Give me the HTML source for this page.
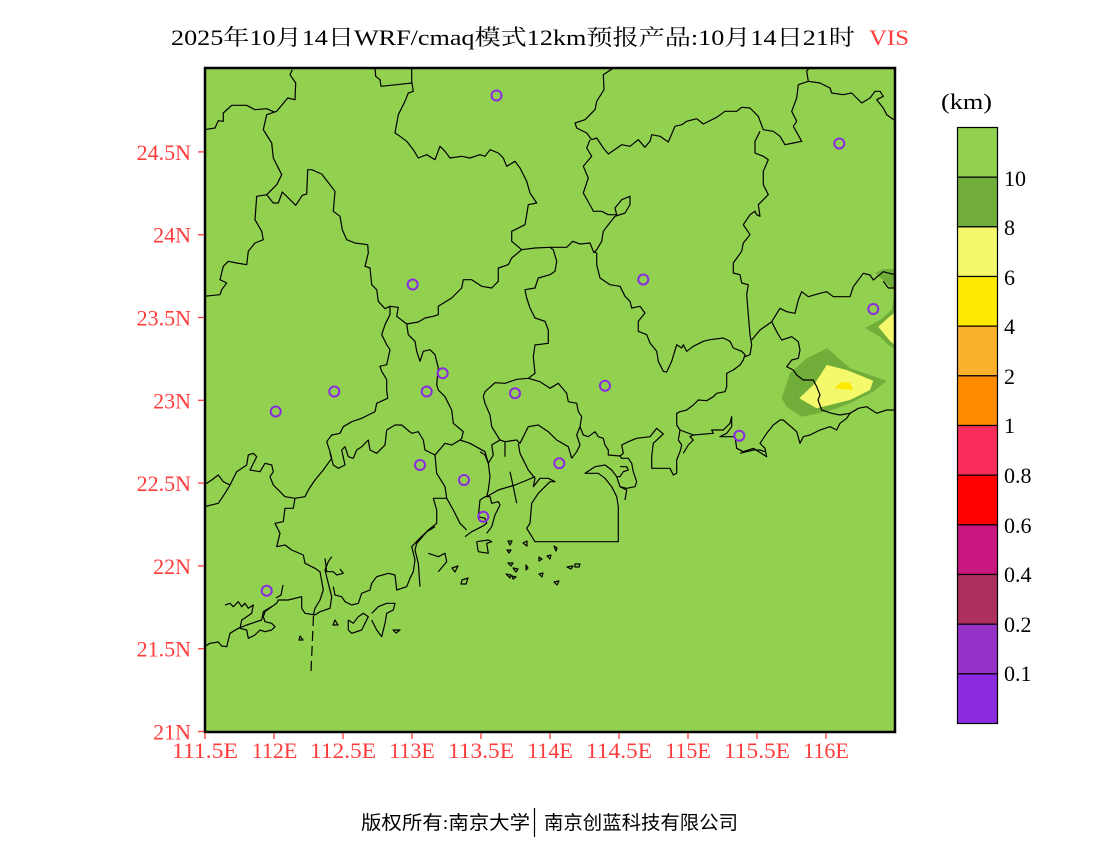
<!DOCTYPE html>
<html><head><meta charset="utf-8">
<style>
html,body{margin:0;padding:0;background:#fff;}
svg{display:block;}
.l{fill:none;stroke:#000;stroke-width:1.2;stroke-linejoin:round;}
.st{fill:none;stroke:#8a2be2;stroke-width:2;}
.ax{font-family:"Liberation Serif",serif;font-size:22px;fill:#ff3c3c;}
.cb{font-family:"Liberation Serif",serif;font-size:22px;fill:#000;}
</style></head>
<body>
<svg width="1100" height="850" viewBox="0 0 1100 850" xmlns="http://www.w3.org/2000/svg">
<rect x="0" y="0" width="1100" height="850" fill="#fff"/>
<!-- Title -->
<text x="171" y="45" textLength="684" lengthAdjust="spacingAndGlyphs" style="font-family:'Liberation Serif','Noto Serif CJK SC',serif;font-size:22px;fill:#000;">2025年10月14日WRF/cmaq模式12km预报产品:10月14日21时</text>
<text x="869" y="45" textLength="40" lengthAdjust="spacingAndGlyphs" style="font-family:'Liberation Serif',serif;font-size:22px;fill:#ff3c3c;">VIS</text>

<defs><clipPath id="mc"><rect x="205" y="68" width="690" height="664"/></clipPath></defs>
<rect x="205" y="68" width="690" height="664" fill="#92d050"/>
<g clip-path="url(#mc)">
<!-- fog patches -->
<polygon fill="#71ae39" points="781.7,398.3 790,373.3 806.7,358.3 827.3,348.3 850,368.3 886.7,380.7 873.3,391.7 850,403.3 830,410.7 801.7,416.7 786.7,406.7"/>
<polygon fill="#f3f96a" points="799.3,398.3 815,383.3 826.7,365 846.7,370 873.3,380.7 870,390 850,400 816.7,408.3"/>
<polygon fill="#ffe900" points="834.3,388.3 841.7,382 850,382.7 853.3,390"/>
<polygon fill="#71ae39" points="865,328 880,320 891.7,310 894,296.7 896,296 896,349 888.3,345 880,336.7"/>
<polygon fill="#f3f96a" points="878.3,326.7 888,318 894,313.3 896,313 896,346 890,341"/>
<polygon fill="#71ae39" points="875,273 883,269 896,269 896,291 886,283"/>

<!-- boundaries -->
<polyline class="l" points="292.3,69.7 290,74.7 295.7,83 295,99.7 287.7,98 276.7,111.3 266.7,114.7 263.3,129.7 271.7,143 273.3,158 281.7,174.7 276.7,184.7 266.7,194.7 256.7,196.3 255,219.7 261.7,231.3 263.3,239.7 255,243 248.3,251.3 246.7,264.7 236.7,263 228.3,261.3 223.3,266.3 220,279.7 226.7,283 221.7,289.7 220,294.7 204,296.3"/>
<polyline class="l" points="204,129.7 215,128 218.3,120.7 223.3,121.3 223.3,113 231.7,105.3 246.7,105.3 255,109.7 266.7,108.7 275,112.3"/>
<polyline class="l" points="266.7,194.7 273.3,203 278.3,203 282.3,192 295.7,205.3 302.3,195.3 306.7,194 307.7,169.7 311.7,169.7 321.7,174 330,184.7 335,191.3 333.3,211.3 340,216.3 342.3,229.7 346.7,239.7 355,243 367.7,244.7 368.3,253 365,266.3 370,268 371.7,284.7 376.7,289.7 378.3,301.3 385,308.7 390,306.3 398.3,307.3 396.7,316.3 406.7,324 418.3,322 425,318 433.3,316.3 438.3,314.7 438.3,306.3 451.7,298 461.7,288 463.3,279.7 471.7,279.7 481.7,286.3 491.7,288 498.3,281.3 498.3,268 508.3,264.7 511.7,258 521.7,249.7 511.7,241.3 511.7,231.3 525,224.7 526.7,214.7 528.3,204.7 536.7,203 530,193 526.7,181.3 520,168 515,161.3 506.7,166.3 503.3,158 498.3,153 490,149.7 485,156.3 480,154.7 470,158 461.7,156.3 450,158 445,151.3 440,146.3 435,159.7 426.7,154.7 418.3,158 413.3,149.7 406.7,141.3 400,136.3 395,133 398.3,114.7 405,101.3 408.3,93 413.3,91.3 411.7,81.3 411.7,67"/>
<polyline class="l" points="375,67 375.7,76.3 380,79.7 381,86.3 396.7,84.7 411.7,83"/>
<polyline class="l" points="390,306.3 390,314.7 385,324.7 381.7,334.7 386.7,344.7 390,349.7 386.7,364.7 380,366.3 381.7,371.3 386.7,379.7 386.7,390 387.7,398.3 376.7,403.3 375,411.7 368.3,415 361.7,418.3 351.7,421.7 343.3,426.7 340,433.3 331.7,435 326.7,441.7 330,451.7 331.7,458.3 323.3,470 315,480 308.3,490 305,496.7 295,498.3"/>
<polyline class="l" points="406.7,324 408.3,334.7 415,341.3 416.7,351.3 420,361.3 423.3,351.3 430,349.7 435,354.7 438.3,368 436.7,384.7 438.3,390 445,396.7 451.7,410 453.3,423.3 463.3,431.7 461.7,438.3 460,440 470,443.3 485,451.7 488.3,463.3 490,476.7 488.3,490 486.7,496.7"/>
<polyline class="l" points="330,453.3 333.3,465 338.3,468.3 345,465 341.7,450 345,446.7 348.3,456.7 353.3,458.3 356.7,450 361.7,446.7 368.3,440 370,450 376.7,453.3 385,445 386.7,430 395,425 401.7,425 411.7,433.3 418.3,431.7 423.3,440 425,450 435,455 445,443.3 451.7,445 460,440"/>
<polyline class="l" points="435,455 436.7,473.3 445,486.7 446.7,498.3 453.3,510 460,523.3 466.7,530"/>
<polyline class="l" points="446.7,498.3 433.3,498.3 436.7,510 436.7,523.3 428.3,530 416.7,543.3 415,550 418.3,563.3 420,586.7"/>
<polyline class="l" points="486.7,496.7 498.3,490 515,485 525,481 535,476.7"/>
<polyline class="l" points="521.7,249.7 535,248 550,247.3 566.7,247.3 572.7,241.3 580,244 590,243 593.3,251.3 596.7,253 596.7,264.7 600,278 610,284.7 620,286.3 625,296.3 630,301.3 631.7,308 640,306.3 645,313 638.3,321.3 638.3,331.3 646.7,334.7 650,343 656.7,351.3 658.3,361.3 663.3,371.3 666.7,372 671.7,361.3 676.7,344.7 681.7,348 683.3,344.7 686.7,351.3 693.3,346.3 703.3,341.3 710,339.7 723.3,338 730,341.3 733.3,348 741.7,351.3 745,354.7 743.3,360 740,365 733.3,370 726.7,373.3 726.7,386.7 725,391.7 716.7,393.3 713.3,396.7 706.7,400.7 698.3,400 693.3,405 686.7,410 680,411.7 676.7,413.3 676.7,425 680,430 678.3,440 681.7,445 680,451.7 676.7,460 676.7,473.3 673.3,475 670,468.3 651.7,468.3 651.7,456.7 653.3,443.3 663.3,434 656.7,428.3 650,436.7 636.7,438.3 628.3,441.7 621.7,445 623.3,453.3 620,456 608.3,455 608.3,450 605,445 603.3,438.3 598.3,436.7 595,431.7 588.3,436.7 583.3,435 580,426.7"/>
<polyline class="l" points="550,274.7 538.3,278 535,288 525,289.7 526.7,298 530,308 535,318 545,321.3 548.3,330 548.3,343.3 535,345 533.3,356.7 535,373.3 528.3,378.3 516.7,379.3 505,383.3 495,382.7 485,391.7 483.3,396.7 485,403.3 490,415 491.7,426.7 500,440 505,441.7 516.7,440 520,443.3 528.3,426.7 538.3,425 548.3,431.7 556.7,440 568.3,446.7 571.7,458.3"/>
<polyline class="l" points="550,274.7 555,271.3 556.7,261.3 553.3,249.7 550,247.3"/>
<polyline class="l" points="528.3,378.3 540,381.7 550,388.3 558.3,383.3 566.7,393.3 568.3,401.7 576.7,403.3 578.3,411.7 581.7,416.7 580,426.7 576.7,435 580,445 576.7,451.7 571.7,458.3"/>
<!-- north -->
<polyline class="l" points="615,67 603.3,74.7 604,89.7 596.7,101.3 595,109.7 585,119.7 575,123 576.7,128 586.7,133 591.7,139.7 596.7,138 603.3,148 608.3,154 621.7,144.7 630,146.3 638.3,139.7 645,147.3 650,141.3 651.7,134.7 660,136.3 668.3,142 675,126.3 681.7,124.7 686.7,121.3 696.7,118.7 703.3,124 716.7,117.3 725,111.3 736.7,111.3 741.7,107.3 750,108 758.3,116.3 763.3,129.7 773.3,131.3 780,136.3 785,144.7 793.3,143 801.7,141.3 793.3,126.3 796.7,121.3 791.7,111.3 796.7,98 798.3,84.7 808.3,81.3 806.7,71.3 810,67"/>
<polyline class="l" points="808.3,81.3 820,83 830,88 831.7,93 843.3,94.7 851.7,93 856.7,98 861.7,103 870,98 875,91.3 880,91.3 883.3,96.3 876.7,99.7 883.3,108 886.7,114.7 896,121.3"/>
<polyline class="l" points="590,139.7 586.7,148 591.7,156.3 583.3,166.3 588.3,178 583.3,193 591.7,208 593.3,211.3 601.7,211.3 608.3,214.7 616.7,214.7 615,208 621.7,199.7 630,196.3 630,204.7 625,213 615,216.3 608.3,224.7 603.3,231.3 601.7,241.3 596.7,249.7 593.3,253"/>
<polyline class="l" points="760,131.3 755,141.3 755,153 763.3,156.3 768.3,159.7 763.3,171.3 763.3,184.7 768.3,194.7 758.3,204.7 760,216.3 756.7,214.7 755,211.3 750,214.7 743.3,224.7 750,234.7 743.3,243 741.7,251.3 733.3,263 733.3,273 740,274.7 741.7,283 748.3,284.7 746.7,294.7 748.3,314.7 750,334.7 751.7,344.7 750,354.7 745,356.7"/>
<polyline class="l" points="751.7,340 760,330 771.7,321.7 780,308.3 786.7,311.7 795,313.3 798.3,300 801.7,291.7 808.3,296.7 820,293.3 826.7,291.7 833.3,296.7 850,296.7 853.3,286.7 863.3,273.3 870,275 873.3,280 883.3,271.7 896,275"/>
<polyline class="l" points="883.3,281.3 888.3,288 896,288"/>
<polyline class="l" points="771.7,321.7 776.7,331.7 781.7,340 791.7,336.7 798.3,341.7 800,350 798.3,358.3 791.7,360 786.7,366.7 793.3,370 796.7,375 803.3,380 813.3,380 816.7,386.7 820,395 818,400 821.7,410 831.7,413.3 840,415 850,413.3"/>
<!-- east coast -->
<polyline class="l" points="680,430 693.3,435 713.3,433.3 711.7,430 723.3,430 730,423.3 731.7,416.7 731.7,426.7 726.7,433.3 720,436.7 735,436.7 736.7,448.3 743.3,451.7 753.3,448.3 766.7,456.7 765,448.3 760,443.3 766.7,433.3 773.3,425 780,420 783.3,420 796.7,431.7 800,443.3 803.3,436.7 810,435 820,430 830,426.7 836.7,430 840,423.3 846.7,418.3 850,413.3 858.3,408.3 866.7,406.7 876.7,413.3 886.7,410 896,410"/>
<polyline class="l" points="740,453.3 753.3,450 760,450 765,451.7"/>
<polyline class="l" points="693.3,435 690,436.7 693.3,440 688.3,445 683.3,453.3"/>
<!-- Pearl river / HK -->
<polyline class="l" points="505,441.7 505,456.7"/>
<polyline class="l" points="510,471.7 513.3,486.7 516.7,503.3"/>
<polyline class="l" points="518.3,443.3 520,453.3 528.3,470 535,478.3 533.3,486.7 540,478.3 548.3,478.3 555,481.7 550,481.7 538.3,493.3 531.7,503.3 530,523.3 526.7,528.3 535,541.7 618.3,541.7 618.3,506.7 616.7,496.7 611.7,486.7 605,478.3 598.3,473.3 585,473.3 595,466.7 605,465 611.7,470 616.7,476.7 620,486.7 626.7,490 625,500"/>
<polyline class="l" points="616.7,476.7 620,476.7 623.3,471.7 628.3,470 626.7,466.7 620,466.7"/>
<polyline class="l" points="620,486.7 626.7,488.3 635,486.7 636.7,481.7 633.3,471.7 631.7,463.3 628.3,458.3 621.7,458.3 620,456"/>
<polyline class="l" points="480,451.7 485,455 488.3,463.3 493.3,455 491.7,445 500,440"/>
<polyline class="l" points="465,536.7 471.7,531.7 481.7,526.7 486.7,523.3 485,518.3 478.3,516.7 480,500 485,496.7 490,496.7 491.7,503.3 498.3,501.7 500,505 495,515 491.7,526.7 486.7,533.3"/>
<polyline class="l" points="476.7,541.7 478.3,551.7 488.3,553.3 486.7,543.3 491.7,541.7 488.3,540 476.7,541.7"/>
<!-- west -->
<polyline class="l" points="204,485 211.7,480 218.3,475 223.3,481.7 230,485 236.7,471.7 246.7,465 248.3,455 253.3,453.3 256.7,456.7 250,470 260,471.7 265,463.3 271.7,465 273.3,471.7 270,476.7 273.3,485 285,496.7 295,498.3 293.3,508.3 285,508.3 283.3,521.7 275,523.3 280,533.3 276.7,546.7 285,545 291.7,550 303.3,555 305,563.3 315,568.3 320,571.7 323.3,590 320,600 315,608.3 313.3,615"/>
<polyline class="l" points="204,506.7 218.3,503.3 225,493.3 230,485"/>
<line x1="313.5" y1="616" x2="311" y2="672" stroke="#000" stroke-width="1.2" stroke-dasharray="10,5"/>
<polyline class="l" points="204,646.7 210,643.3 218.3,642 221.7,646 226.7,646.7 230,633.3 238.3,628.3 246.7,625 251.7,623.3 261.7,620 263.3,611.7 271.7,606.7 276.7,603.3 278.3,600 288.3,600 301.7,596.7 301.7,608.3 305,613.3 315,615 320,611.7 330,608.3 331.7,596.7 328.3,583.3 325,570 328.3,561.7 331.7,556.7"/>
<polyline class="l" points="225,605 230,603.3 233.3,606.7 238.3,601.7 241.7,606.7 245,603.3 248.3,608.3 253.3,605 251.7,613.3 246.7,616.7 241.7,620 240,628.3 246.7,630 248.3,638.3 255,635 260,630 265,631.7 271.7,630 275,626.7 271.7,623.3 265,621.7 263.3,616.7 265,611.7 271.7,606.7"/>
<polyline class="l" points="283,585 281,595 276,598"/>
<polyline class="l" points="333.3,586.7 335,595 341.7,596.7 345,601.7 351.7,605 358.3,603.3 361.7,593.3 370,590 371.7,583.3 376.7,576.7 388.3,573.3 395,575 396.7,590 406.7,586.7 410,578.3 413.3,571.7 415,560 411.7,546.7 420,538 426.7,531.7 435,526.7"/>
<polyline class="l" points="325,558.3 326.7,571.7 333.3,571.7 336.7,575 343.3,573.3 340,569"/>
<polyline class="l" points="428.3,553.3 438.3,556.7 445,553.3 446.7,561.7 438.3,571.7"/>
<polyline class="l" points="348.3,620 353.3,623.3 358.3,616.7 363.3,613.3 368.3,616.7 365,623.3 361.7,630 351.7,633.3 348.3,630 348.3,620"/>
<polyline class="l" points="371.7,613.3 378.3,606.7 386.7,603.3 395,603.3 393.3,610 386.7,613.3 385,623.3 381.7,636.7 376.7,630 371.7,620"/>
<polygon class="l" points="335,620 338,625 333,625"/>
<polygon class="l" points="300,636 303,640 299,640"/>
<polygon class="l" points="393,630 400,630 396,633"/>
<polygon class="l" points="452,568 458,566 455,572"/>
<polygon class="l" points="462,580 468,578 466,584 461,584"/>
<polygon class="l" points="508,541 512,541 510,545"/>
<polygon class="l" points="523,543 527,541 527,546"/>
<polygon class="l" points="507,550 511,550 509,553"/>
<polygon class="l" points="554,546 557,548 556,551"/>
<polygon class="l" points="539,557 542,559 539,561"/>
<polygon class="l" points="508,563 513,563 511,566"/>
<polygon class="l" points="513,568 518,569 516,572"/>
<polygon class="l" points="526,565 528,568 526,570"/>
<polygon class="l" points="567,567 573,566 571,569"/>
<polygon class="l" points="575,564 580,564 579,567 575,567"/>
<polygon class="l" points="506,574 511,575 510,578"/>
<polygon class="l" points="512,576 516,577 513,579"/>
<polygon class="l" points="554,582 559,581 557,585"/>
<polygon class="l" points="539,574 543,573 542,577"/>
<polygon class="l" points="547,556 551,555 550,559"/>

<!-- stations -->
<circle class="st" cx="496.5" cy="95.5" r="5"/>
<circle class="st" cx="839.3" cy="143.5" r="5"/>
<circle class="st" cx="412.7" cy="284.5" r="5"/>
<circle class="st" cx="643.3" cy="279.5" r="5"/>
<circle class="st" cx="873.3" cy="309" r="5"/>
<circle class="st" cx="334.3" cy="391.5" r="5"/>
<circle class="st" cx="275.7" cy="411.5" r="5"/>
<circle class="st" cx="442.7" cy="373.3" r="5"/>
<circle class="st" cx="426.7" cy="391.5" r="5"/>
<circle class="st" cx="515" cy="393.3" r="5"/>
<circle class="st" cx="605" cy="385.7" r="5"/>
<circle class="st" cx="420" cy="465" r="5"/>
<circle class="st" cx="464" cy="480" r="5"/>
<circle class="st" cx="559.3" cy="463.3" r="5"/>
<circle class="st" cx="483.3" cy="516.7" r="5"/>
<circle class="st" cx="739.3" cy="435.7" r="5"/>
<circle class="st" cx="266.7" cy="590.7" r="5"/>
</g>
<rect x="205" y="68" width="690" height="664" fill="none" stroke="#000" stroke-width="2.5"/>

<!-- ticks -->
<g stroke="#ff3c3c" stroke-width="1.3">
<line x1="205" y1="733" x2="205" y2="739"/>
<line x1="274" y1="733" x2="274" y2="739"/>
<line x1="343" y1="733" x2="343" y2="739"/>
<line x1="412" y1="733" x2="412" y2="739"/>
<line x1="481" y1="733" x2="481" y2="739"/>
<line x1="550" y1="733" x2="550" y2="739"/>
<line x1="619" y1="733" x2="619" y2="739"/>
<line x1="688" y1="733" x2="688" y2="739"/>
<line x1="757" y1="733" x2="757" y2="739"/>
<line x1="826" y1="733" x2="826" y2="739"/>
<line x1="198" y1="731.5" x2="204" y2="731.5"/>
<line x1="198" y1="648.7" x2="204" y2="648.7"/>
<line x1="198" y1="565.9" x2="204" y2="565.9"/>
<line x1="198" y1="483.1" x2="204" y2="483.1"/>
<line x1="198" y1="400.3" x2="204" y2="400.3"/>
<line x1="198" y1="317.5" x2="204" y2="317.5"/>
<line x1="198" y1="234.7" x2="204" y2="234.7"/>
<line x1="198" y1="151.9" x2="204" y2="151.9"/>
</g>
<g class="ax" text-anchor="middle">
<text x="205" y="758" textLength="66" lengthAdjust="spacingAndGlyphs">111.5E</text>
<text x="274.5" y="758">112E</text>
<text x="343" y="758" textLength="66" lengthAdjust="spacingAndGlyphs">112.5E</text>
<text x="412" y="758">113E</text>
<text x="481" y="758" textLength="66" lengthAdjust="spacingAndGlyphs">113.5E</text>
<text x="550" y="758">114E</text>
<text x="619" y="758" textLength="66" lengthAdjust="spacingAndGlyphs">114.5E</text>
<text x="688" y="758">115E</text>
<text x="757" y="758" textLength="66" lengthAdjust="spacingAndGlyphs">115.5E</text>
<text x="826" y="758">116E</text>
</g>
<g class="ax" text-anchor="end">
<text x="191" y="739.5">21N</text>
<text x="191" y="656.7">21.5N</text>
<text x="191" y="573.9">22N</text>
<text x="191" y="491.1">22.5N</text>
<text x="191" y="408.3">23N</text>
<text x="191" y="325.5">23.5N</text>
<text x="191" y="242.7">24N</text>
<text x="191" y="159.9">24.5N</text>
</g>

<!-- colorbar -->
<text class="cb" x="941" y="109" textLength="51" lengthAdjust="spacingAndGlyphs">(km)</text>
<g stroke="#000" stroke-width="1.2">
<rect x="957.5" y="127.5" width="40" height="49.67" fill="#92d050"/>
<rect x="957.5" y="177.17" width="40" height="49.67" fill="#71ae39"/>
<rect x="957.5" y="226.83" width="40" height="49.67" fill="#f3f96a"/>
<rect x="957.5" y="276.5" width="40" height="49.67" fill="#ffe900"/>
<rect x="957.5" y="326.17" width="40" height="49.67" fill="#fcb12c"/>
<rect x="957.5" y="375.83" width="40" height="49.67" fill="#ff8c00"/>
<rect x="957.5" y="425.5" width="40" height="49.67" fill="#f82d59"/>
<rect x="957.5" y="475.17" width="40" height="49.67" fill="#ff0000"/>
<rect x="957.5" y="524.83" width="40" height="49.67" fill="#c8177e"/>
<rect x="957.5" y="574.5" width="40" height="49.67" fill="#ad2f5d"/>
<rect x="957.5" y="624.17" width="40" height="49.67" fill="#9632c8"/>
<rect x="957.5" y="673.83" width="40" height="49.67" fill="#8a2be2"/>
</g>
<g class="cb">
<text x="1004" y="186">10</text>
<text x="1004" y="235">8</text>
<text x="1004" y="285">6</text>
<text x="1004" y="334">4</text>
<text x="1004" y="384">2</text>
<text x="1004" y="433">1</text>
<text x="1004" y="483">0.8</text>
<text x="1004" y="533">0.6</text>
<text x="1004" y="582">0.4</text>
<text x="1004" y="632">0.2</text>
<text x="1004" y="681">0.1</text>
</g>

<!-- footer -->
<text x="361" y="829" textLength="169" lengthAdjust="spacingAndGlyphs" style="font-family:'Liberation Serif','Noto Sans CJK SC',sans-serif;font-size:19px;fill:#000;">版权所有:南京大学</text>
<line x1="534.5" y1="808" x2="534.5" y2="837" stroke="#000" stroke-width="1.2"/>
<text x="544" y="829" textLength="194" lengthAdjust="spacingAndGlyphs" style="font-family:'Liberation Serif','Noto Sans CJK SC',sans-serif;font-size:19px;fill:#000;">南京创蓝科技有限公司</text>
</svg>
</body></html>
